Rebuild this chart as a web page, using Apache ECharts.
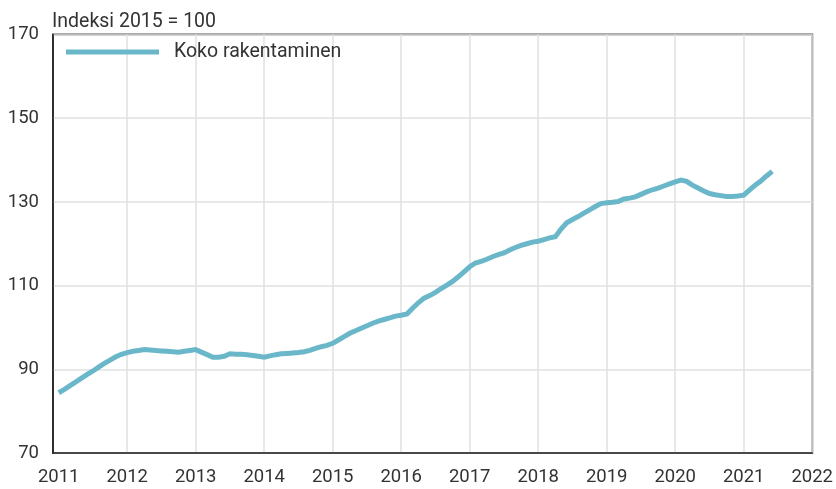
<!DOCTYPE html>
<html>
<head>
<meta charset="utf-8">
<script src="https://cdn.jsdelivr.net/npm/echarts@6/dist/echarts.min.js"></script>
<style>html,body{margin:0;padding:0;background:#fff}#c{width:836px;height:489px}</style>
</head>
<body>
<div id="c"></div>
<script>
// Monthly observations, Jan 2011 .. Jun 2021
const startYear = 2011;
const seriesName = "Koko rakentaminen";
const unitLabel = "Indeksi 2015 = 100";
const values2011 = [84.4, 85.2, 86.1, 87.0, 87.9, 88.8, 89.6, 90.5, 91.4, 92.2, 93.0, 93.6];
const values2012 = [94.0, 94.3, 94.5, 94.7, 94.6, 94.5, 94.4, 94.3, 94.2, 94.1, 94.3, 94.5];
const values2013 = [94.7, 94.1, 93.5, 92.9, 92.9, 93.1, 93.7, 93.6, 93.6, 93.5, 93.3, 93.1];
const values2014 = [92.9, 93.2, 93.5, 93.7, 93.8, 93.9, 94.0, 94.2, 94.5, 95.0, 95.4, 95.7];
const values2015 = [96.2, 97.0, 97.8, 98.6, 99.2, 99.8, 100.4, 101.0, 101.5, 101.9, 102.3, 102.7];
const values2016 = [102.9, 103.2, 104.6, 105.9, 107.0, 107.6, 108.4, 109.3, 110.1, 111.0, 112.1, 113.3];
const values2017 = [114.5, 115.4, 115.8, 116.3, 116.9, 117.4, 117.8, 118.5, 119.1, 119.6, 120.0, 120.4];
const values2018 = [120.6, 121.0, 121.4, 121.7, 123.5, 125.0, 125.8, 126.5, 127.3, 128.1, 128.9, 129.6];
const values2019 = [129.8, 129.9, 130.1, 130.7, 130.9, 131.2, 131.8, 132.4, 132.9, 133.3, 133.8, 134.3];
const values2020 = [134.8, 135.2, 134.9, 134.0, 133.3, 132.6, 132.0, 131.7, 131.5, 131.3, 131.3, 131.4];
const values2021 = [131.6, 132.8, 134.0, 135.0, 136.2, 137.3];
const yearLabels = [2011, 2012, 2013, 2014, 2015, 2016, 2017, 2018, 2019, 2020, 2021, 2022];
const gridYears = [2012, 2013, 2014, 2015, 2016, 2017, 2018, 2019, 2020, 2021, 2022];
const yTicks = [70, 90, 110, 130, 150, 170];

const allYears = [values2011, values2012, values2013, values2014, values2015, values2016,
  values2017, values2018, values2019, values2020, values2021];
const data = [];
allYears.forEach((arr, yi) => {
  arr.forEach((v, mi) => {
    data.push([startYear + yi + mi / 12, v]);
  });
});

const FONT = 'Roboto';
const chart = echarts.init(document.getElementById('c'), null, {renderer: 'canvas'});
chart.setOption({
  animation: false,
  backgroundColor: '#fff',
  title: {
    text: unitLabel,
    left: 47, top: 7,
    textStyle: {fontFamily: FONT, fontSize: 19.5, fontWeight: 'normal', color: '#333'}
  },
  legend: {
    left: 61, top: 37,
    icon: 'rect',
    itemWidth: 93, itemHeight: 5,
    data: [seriesName],
    textStyle: {fontFamily: FONT, fontSize: 19.5, color: '#333', padding: [0, 0, 0, 10]}
  },
  grid: {
    left: 53, right: 20, top: 34.5, bottom: 36,
    show: true, borderColor: '#555', borderWidth: 2, backgroundColor: 'transparent'
  },
  xAxis: {
    type: 'value',
    min: startYear - 1 / 12, max: 2022,
    axisLine: {show: true, onZero: false, lineStyle: {color: '#222', width: 1.5}},
    axisTick: {show: false, customValues: gridYears},
    splitLine: {show: true, lineStyle: {color: '#e0e0e0', width: 1.5}},
    axisLabel: {
      customValues: yearLabels,
      fontFamily: FONT, fontSize: 18.5, color: '#333', margin: 15,
      formatter: v => String(Math.round(v))
    }
  },
  yAxis: {
    type: 'value',
    min: yTicks[0], max: yTicks[yTicks.length - 1], interval: 20,
    axisLine: {show: true, lineStyle: {color: '#222', width: 1.5}},
    axisTick: {show: false},
    splitLine: {show: true, lineStyle: {color: '#e0e0e0', width: 1.5}},
    axisLabel: {fontFamily: FONT, fontSize: 18.5, color: '#333', margin: 14}
  },
  series: [{
    name: seriesName,
    type: 'line',
    data: data,
    showSymbol: false,
    symbol: 'none',
    lineStyle: {color: '#6ab7ca', width: 5, join: 'miter'},
    itemStyle: {color: '#6ab7ca'}
  }]
});
</script>
</body>
</html>
